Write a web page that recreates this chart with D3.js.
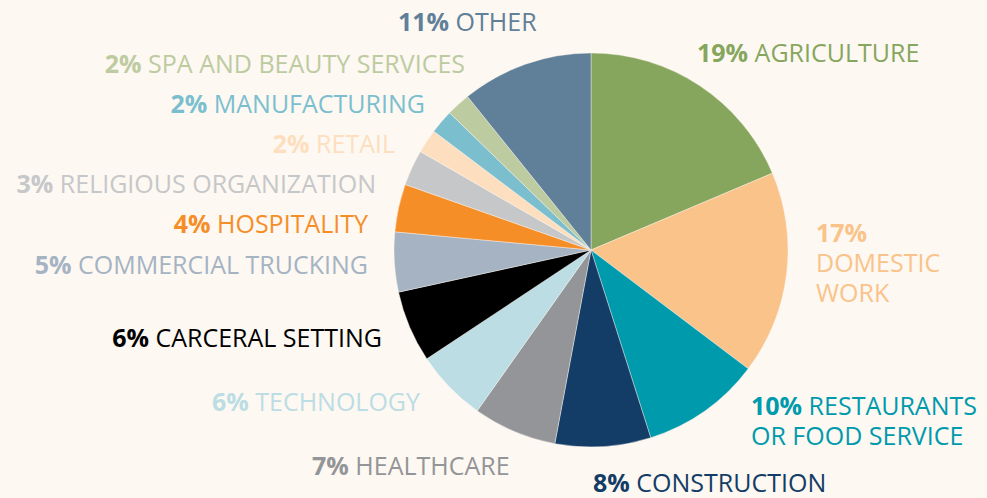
<!DOCTYPE html>
<html>
<head>
<meta charset="utf-8">
<script src="https://cdn.jsdelivr.net/npm/d3@7"></script>
<style>
  html, body { margin: 0; padding: 0; background: #fdf8f2; }
  svg { display: block; }
  text { font-family: "Open Sans", sans-serif; font-size: 25px; }
</style>
</head>
<body>
<div id="chart"></div>
<script>
// industries, clockwise from 12 o'clock
var industries = [
    "AGRICULTURE", "DOMESTIC WORK", "RESTAURANTS OR FOOD SERVICE", "CONSTRUCTION",
    "HEALTHCARE", "TECHNOLOGY", "CARCERAL SETTING", "COMMERCIAL TRUCKING",
    "HOSPITALITY", "RELIGIOUS ORGANIZATION", "RETAIL", "MANUFACTURING",
    "SPA AND BEAUTY SERVICES", "OTHER"
];
var shares = [19, 17, 10, 8, 7, 6, 6, 5, 4, 3, 2, 2, 2, 11];
var colors = [
    "#87a65d", "#f9c38a", "#009aad", "#133d66",
    "#939598", "#bcdde4", "#000000", "#a5b3c3",
    "#f68e28", "#c6c7c9", "#fddfbf", "#7bbfcf",
    "#bdcba1", "#607f99"
];
// how each label is broken into lines (first line carries the percentage)
var labelLines = [
    ["AGRICULTURE"], ["", "DOMESTIC", "WORK"], ["RESTAURANTS", "OR FOOD SERVICE"], ["CONSTRUCTION"],
    ["HEALTHCARE"], ["TECHNOLOGY"], ["CARCERAL SETTING"], ["COMMERCIAL TRUCKING"],
    ["HOSPITALITY"], ["RELIGIOUS ORGANIZATION"], ["RETAIL"], ["MANUFACTURING"],
    ["SPA AND BEAUTY SERVICES"], ["OTHER"]
];

var width = 987, height = 498;
var cx = 591, cy = 250, radius = 197;
var lineHeight = 30;

// label anchors: x, first baseline, text-anchor
var labelLayout = [
    [697, 62, "start"], [816, 242, "start"], [751, 415, "start"], [593, 492, "start"],
    [312, 475, "start"], [420, 411, "end"], [382, 347, "end"], [368, 274, "end"],
    [368, 233, "end"], [376, 193, "end"], [395, 153, "end"], [425, 113, "end"],
    [465, 73, "end"], [398, 31, "start"]
];

var data = industries.map(function(name, i) {
    return { name: name, share: shares[i], color: colors[i], lines: labelLines[i], layout: labelLayout[i] };
});

var svg = d3.select("#chart")
    .append("svg")
    .attr("width", width)
    .attr("height", height);

svg.append("rect")
    .attr("width", width)
    .attr("height", height)
    .attr("fill", "#fdf8f2");

var pie = d3.pie()
    .sort(null)
    .value(function(d) { return d.share; });

var arc = d3.arc()
    .innerRadius(0)
    .outerRadius(radius);

svg.append("g")
    .attr("class", "slices")
    .attr("transform", "translate(" + cx + "," + cy + ")")
    .selectAll("path")
    .data(pie(data))
    .join("path")
    .attr("d", arc)
    .attr("fill", function(d) { return d.data.color; })
    .attr("stroke", "#fdf8f2")
    .attr("stroke-width", 0.4);

var labels = svg.append("g")
    .attr("class", "labels")
    .selectAll("text")
    .data(data)
    .join("text")
    .attr("x", function(d) { return d.layout[0]; })
    .attr("y", function(d) { return d.layout[1]; })
    .attr("text-anchor", function(d) { return d.layout[2]; })
    .attr("fill", function(d) { return d.color; });

labels.each(function(d) {
    var text = d3.select(this);
    d.lines.forEach(function(line, i) {
        var span = text.append("tspan")
            .attr("x", d.layout[0])
            .attr("dy", i === 0 ? 0 : lineHeight);
        if (i === 0) {
            span.append("tspan")
                .attr("font-weight", 700)
                .text(d.share + "%" + (line ? " " : ""));
        }
        span.append("tspan")
            .attr("font-weight", 400)
            .text(line);
    });
});
</script>
</body>
</html>
